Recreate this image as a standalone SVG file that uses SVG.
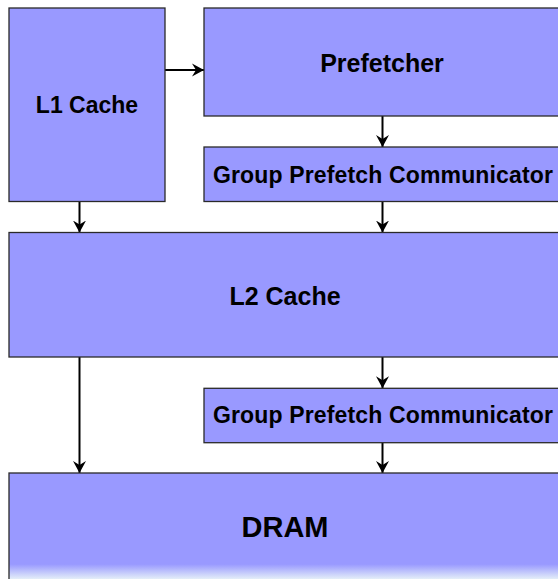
<svg xmlns="http://www.w3.org/2000/svg" width="558" height="579" viewBox="0 0 558 579">
<style>
.box{fill:#9999FF;stroke:#2a2a2a;stroke-width:1.3}
.lbl{font-family:"Liberation Sans",Arial,sans-serif;font-weight:bold;fill:#000;text-anchor:middle}
.con{stroke:#000;stroke-width:2;fill:none}
</style>
<defs>
<marker id="ah" markerUnits="userSpaceOnUse" markerWidth="14" markerHeight="14" refX="12" refY="7" orient="auto">
<path d="M0,0.5 L12,7 L0,13.5 L4,7 z" fill="#000"/>
</marker>
<linearGradient id="fade" gradientUnits="userSpaceOnUse" x1="0" y1="473" x2="0" y2="579">
<stop offset="0" stop-color="#9999FF"/>
<stop offset="0.86" stop-color="#9999FF"/>
<stop offset="1" stop-color="#e4eef8"/>
</linearGradient>
</defs>
<rect width="558" height="579" fill="#fff"/>
<g id="connectors">
<line class="con" x1="165" y1="70" x2="204" y2="70" marker-end="url(#ah)"/>
<line class="con" x1="382.5" y1="116" x2="382.5" y2="147" marker-end="url(#ah)"/>
<line class="con" x1="382.5" y1="201.5" x2="382.5" y2="232.5" marker-end="url(#ah)"/>
<line class="con" x1="79.5" y1="201.5" x2="79.5" y2="232.5" marker-end="url(#ah)"/>
<line class="con" x1="79.5" y1="357" x2="79.5" y2="473" marker-end="url(#ah)"/>
<line class="con" x1="382.5" y1="357" x2="382.5" y2="388.3" marker-end="url(#ah)"/>
<line class="con" x1="382.5" y1="442.7" x2="382.5" y2="473" marker-end="url(#ah)"/>
</g>
<g id="l1">
<rect class="box" x="9" y="8" width="156" height="193.5"/>
<text class="lbl" x="87" y="113" font-size="23">L1 Cache</text>
</g>
<g id="prefetcher">
<rect class="box" x="204" y="8" width="357" height="108"/>
<text class="lbl" x="382" y="72" font-size="25">Prefetcher</text>
</g>
<g id="gpc1">
<rect class="box" x="204" y="147" width="357" height="54.5"/>
<text class="lbl" x="383" y="182.5" font-size="23" letter-spacing="0.15">Group Prefetch Communicator</text>
</g>
<g id="l2">
<rect class="box" x="9" y="232.5" width="552" height="124.5"/>
<text class="lbl" x="285" y="305" font-size="25">L2 Cache</text>
</g>
<g id="gpc2">
<rect class="box" x="204" y="388.3" width="357" height="54.4"/>
<text class="lbl" x="383" y="423" font-size="23" letter-spacing="0.15">Group Prefetch Communicator</text>
</g>
<g id="dram">
<rect class="box" x="9" y="473" width="552" height="110" style="fill:url(#fade)"/>
<text class="lbl" x="285" y="537" font-size="29">DRAM</text>
</g>
</svg>
